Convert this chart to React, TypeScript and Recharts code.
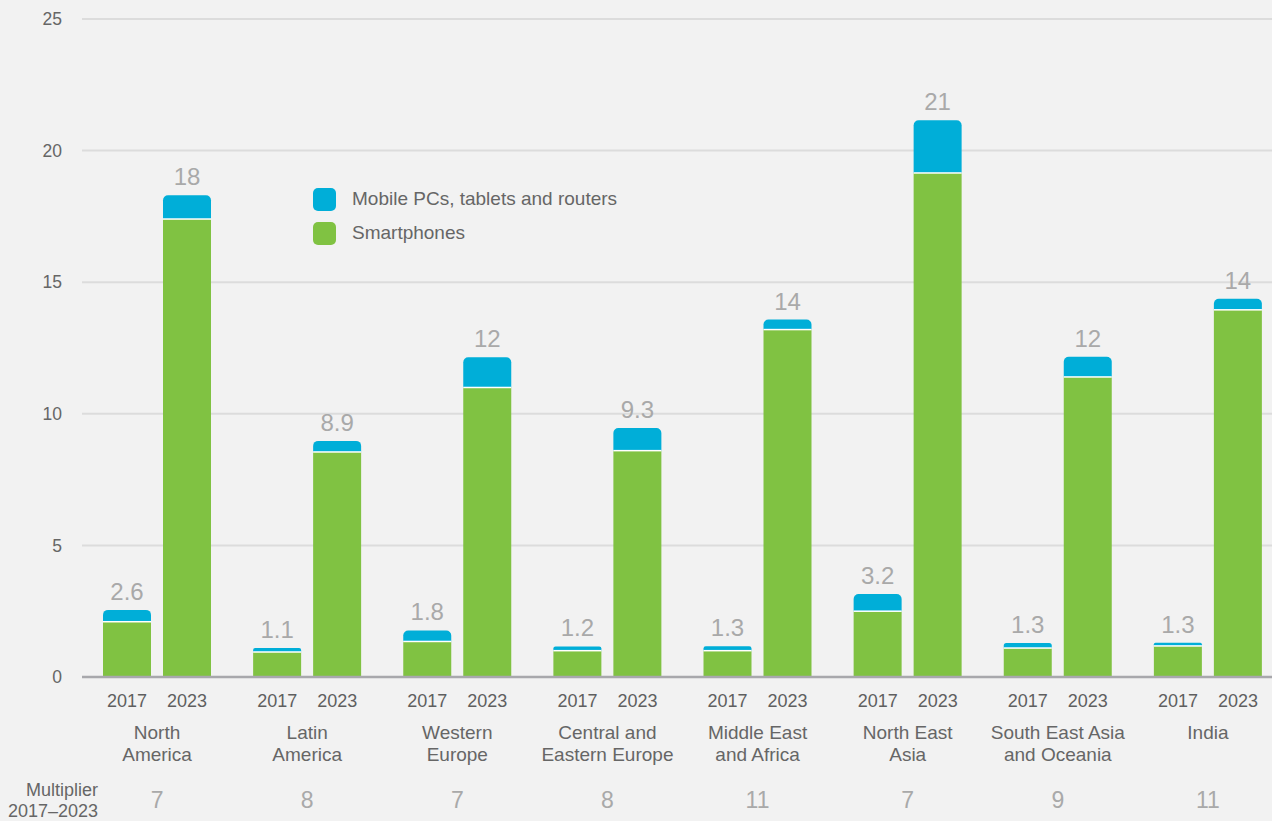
import {
  Bar,
  BarChart,
  CartesianGrid,
  LabelList,
  Legend,
  Rectangle,
  XAxis,
  YAxis,
} from 'recharts';

const regions = [
  'North America',
  'Latin America',
  'Western Europe',
  'Central and Eastern Europe',
  'Middle East and Africa',
  'North East Asia',
  'South East Asia and Oceania',
  'India',
];
const regionLines = [
  ['North', 'America'],
  ['Latin', 'America'],
  ['Western', 'Europe'],
  ['Central and', 'Eastern Europe'],
  ['Middle East', 'and Africa'],
  ['North East', 'Asia'],
  ['South East Asia', 'and Oceania'],
  ['India'],
];
const years = ['2017', '2023'];

// GB per month, per active device
const smart2017 = [2.1, 0.95, 1.35, 1.0, 1.0, 2.5, 1.1, 1.18];
const other2017 = [0.45, 0.15, 0.42, 0.16, 0.17, 0.65, 0.19, 0.12];
const smart2023 = [17.4, 8.55, 11.0, 8.6, 13.2, 19.15, 11.4, 13.95];
const other2023 = [0.9, 0.42, 1.15, 0.86, 0.38, 2.0, 0.77, 0.42];
const total2017 = [2.6, 1.1, 1.8, 1.2, 1.3, 3.2, 1.3, 1.3];
const total2023 = [18, 8.9, 12, 9.3, 14, 21, 12, 14];
const multipliers = [7, 8, 7, 8, 11, 7, 9, 11];

const yTicks = [0, 5, 10, 15, 20, 25];

const GREEN = '#80c242';
const BLUE = '#00aed8';
const BG = '#f2f2f2';
const FONT = '"Liberation Sans", Arial, sans-serif';

const legendItems = [
  { label: 'Mobile PCs, tablets and routers', color: BLUE },
  { label: 'Smartphones', color: GREEN },
];

const data = regions.map((region, i) => ({
  region,
  smart2017: smart2017[i],
  other2017: other2017[i],
  smart2023: smart2023[i],
  other2023: other2023[i],
  total2017: total2017[i],
  total2023: total2023[i],
}));

// blue cap with a thin white seam where it meets the green part
function TopShape(props: any) {
  const { x, y, width, height, fill } = props;
  if (!height || height <= 0) return null;
  return (
    <g>
      <Rectangle x={x} y={y} width={width} height={height} fill={fill} radius={[5, 5, 0, 0]} />
      <rect x={x} y={y + height - 0.75} width={width} height={1.5} fill="#ffffff" />
    </g>
  );
}

function RegionTick(props: any) {
  const { x, y, index } = props;
  const lines = regionLines[index] || [];
  return (
    <g fontFamily={FONT}>
      {years.map((yr, j) => (
        <text
          key={yr}
          x={x + (j === 0 ? -30 : 30)}
          y={y + 30}
          textAnchor="middle"
          fontSize={18}
          fill="#5f5f5f"
        >
          {yr}
        </text>
      ))}
      {lines.map((line, j) => (
        <text key={j} x={x} y={y + 62 + j * 22} textAnchor="middle" fontSize={19} fill="#666">
          {line}
        </text>
      ))}
      <text x={x} y={y + 131} textAnchor="middle" fontSize={23} fill="#a9a9a9">
        {multipliers[index]}
      </text>
      {index === 0 && (
        <g fontSize={18} fill="#666" textAnchor="end">
          <text x={98} y={y + 119}>
            Multiplier
          </text>
          <text x={98} y={y + 140}>
            2017–2023
          </text>
        </g>
      )}
    </g>
  );
}

function renderLegend() {
  return (
    <div style={{ fontFamily: FONT }}>
      {legendItems.map((item) => (
        <div
          key={item.label}
          style={{ display: 'flex', alignItems: 'center', height: 34, fontSize: 19, color: '#666' }}
        >
          <span
            style={{
              display: 'inline-block',
              width: 23,
              height: 23,
              borderRadius: 5,
              background: item.color,
              marginRight: 16,
            }}
          />
          {item.label}
        </div>
      ))}
    </div>
  );
}

export default function App() {
  return (
    <div
      style={{
        position: 'absolute',
        left: 0,
        top: 0,
        width: 1272,
        height: 821,
        overflow: 'hidden',
        background: BG,
      }}
    >
      <BarChart
        width={1283}
        height={821}
        data={data}
        margin={{ top: 19, right: 0, bottom: 0, left: 0 }}
        barSize={48}
        barGap={12}
      >
        <CartesianGrid vertical={false} stroke="#dcdcdc" strokeWidth={2} />
        <XAxis
          dataKey="region"
          height={144}
          tickLine={false}
          tickSize={0}
          tickMargin={0}
          interval={0}
          axisLine={{ stroke: '#a8a8ac', strokeWidth: 2.5 }}
          tick={<RegionTick />}
        />
        <YAxis
          width={82}
          domain={[0, 25]}
          ticks={yTicks}
          axisLine={false}
          tickLine={false}
          tickSize={0}
          tickMargin={20}
          tick={{ fontSize: 17.5, fill: '#666', fontFamily: FONT }}
        />
        <Legend
          layout="vertical"
          verticalAlign="middle"
          align="center"
          content={renderLegend}
          wrapperStyle={{ top: 182, left: 313, width: 400, height: 70 }}
        />
        <Bar dataKey="smart2017" stackId="y2017" fill={GREEN} isAnimationActive={false} />
        <Bar
          dataKey="other2017"
          stackId="y2017"
          fill={BLUE}
          shape={<TopShape />}
          isAnimationActive={false}
        >
          <LabelList
            dataKey="total2017"
            position="top"
            offset={10}
            fill="#a9a9a9"
            fontSize={24}
            fontFamily={FONT}
          />
        </Bar>
        <Bar dataKey="smart2023" stackId="y2023" fill={GREEN} isAnimationActive={false} />
        <Bar
          dataKey="other2023"
          stackId="y2023"
          fill={BLUE}
          shape={<TopShape />}
          isAnimationActive={false}
        >
          <LabelList
            dataKey="total2023"
            position="top"
            offset={10}
            fill="#a9a9a9"
            fontSize={24}
            fontFamily={FONT}
          />
        </Bar>
      </BarChart>
    </div>
  );
}
